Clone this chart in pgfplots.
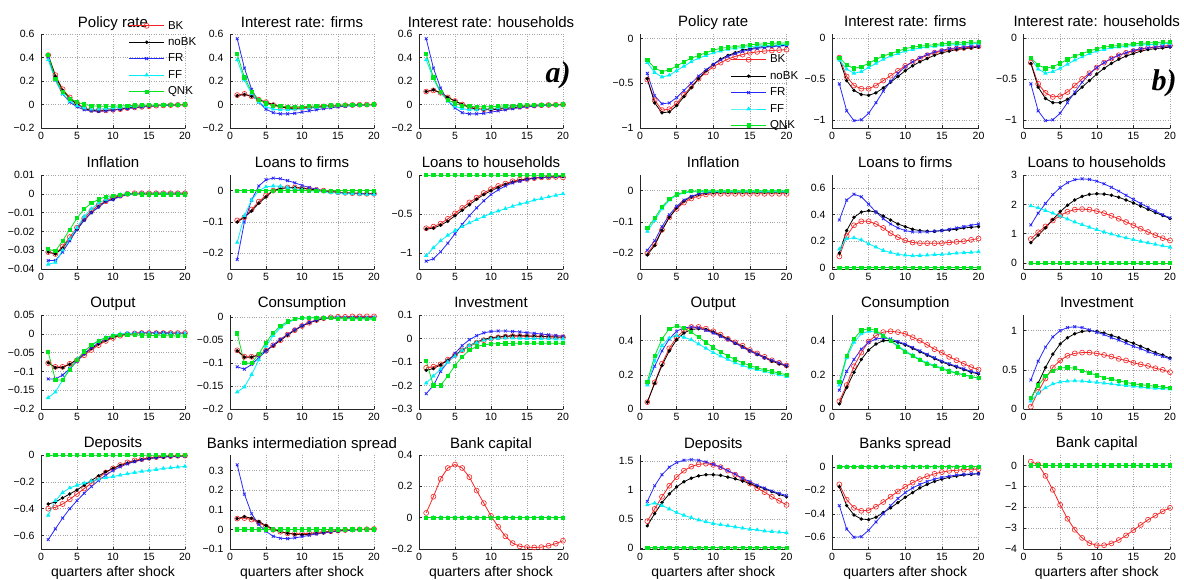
\documentclass[border=0pt]{standalone}
\usepackage{fontspec}
\setmainfont{Liberation Sans}
\newfontfamily\tnr{Liberation Serif}
\usepackage{pgfplots}
\usepackage{pgfplotstable}
\pgfplotsset{compat=1.18}

\definecolor{cBK}{RGB}{245,35,35}
\definecolor{cFR}{RGB}{40,40,250}
\definecolor{cFF}{RGB}{0,240,250}
\definecolor{cQNK}{RGB}{0,230,30}

% ---------- panel a) ----------
\pgfplotstableread{
x BK noBK FR FF QNK
1 0.42 0.42 0.40 0.38 0.42
2 0.25 0.24 0.21 0.21 0.22
3 0.13 0.12 0.09 0.09 0.11
4 0.06 0.05 0.02 0.03 0.05
5 0.01 0.00 -0.02 -0.01 0.02
6 -0.03 -0.035 -0.045 -0.03 0.0
7 -0.045 -0.05 -0.055 -0.04 -0.01
8 -0.05 -0.055 -0.058 -0.04 -0.015
9 -0.05 -0.05 -0.055 -0.035 -0.015
10 -0.045 -0.045 -0.05 -0.03 -0.015
11 -0.04 -0.04 -0.04 -0.025 -0.012
12 -0.03 -0.03 -0.035 -0.02 -0.01
13 -0.025 -0.025 -0.028 -0.015 -0.008
14 -0.02 -0.02 -0.02 -0.012 -0.006
15 -0.015 -0.015 -0.015 -0.01 -0.005
16 -0.01 -0.01 -0.01 -0.007 -0.004
17 -0.008 -0.008 -0.007 -0.005 -0.003
18 -0.005 -0.005 -0.005 -0.003 -0.002
19 -0.003 -0.003 -0.003 -0.002 -0.001
20 -0.002 -0.002 -0.002 -0.001 0
}\aA
\pgfplotstableread{
x BK noBK FR FF QNK
1 0.08 0.075 0.56 0.38 0.43
2 0.09 0.085 0.31 0.21 0.23
3 0.07 0.07 0.13 0.09 0.11
4 0.04 0.04 0.02 0.02 0.04
5 0.02 0.02 -0.04 -0.02 0.01
6 -0.005 0 -0.07 -0.04 -0.01
7 -0.02 -0.02 -0.08 -0.045 -0.015
8 -0.025 -0.03 -0.08 -0.045 -0.02
9 -0.028 -0.035 -0.075 -0.04 -0.02
10 -0.028 -0.035 -0.065 -0.035 -0.02
11 -0.025 -0.03 -0.055 -0.03 -0.015
12 -0.02 -0.025 -0.045 -0.025 -0.012
13 -0.016 -0.02 -0.035 -0.02 -0.01
14 -0.012 -0.015 -0.028 -0.015 -0.008
15 -0.009 -0.011 -0.02 -0.011 -0.006
16 -0.006 -0.008 -0.015 -0.008 -0.004
17 -0.004 -0.005 -0.01 -0.005 -0.003
18 -0.002 -0.003 -0.007 -0.003 -0.002
19 -0.001 -0.002 -0.004 -0.002 -0.001
20 0 -0.001 -0.002 -0.001 0
}\aB
\pgfplotstableread{
x BK noBK FR FF QNK
1 0.11 0.11 0.56 0.38 0.43
2 0.12 0.125 0.31 0.22 0.23
3 0.10 0.10 0.14 0.10 0.11
4 0.06 0.06 0.03 0.03 0.04
5 0.03 0.03 -0.03 -0.015 0.01
6 0.0 0.0 -0.07 -0.035 -0.01
7 -0.02 -0.025 -0.08 -0.045 -0.015
8 -0.035 -0.04 -0.08 -0.045 -0.02
9 -0.04 -0.045 -0.075 -0.04 -0.02
10 -0.04 -0.045 -0.065 -0.035 -0.02
11 -0.035 -0.04 -0.055 -0.03 -0.015
12 -0.03 -0.034 -0.045 -0.025 -0.012
13 -0.024 -0.027 -0.035 -0.02 -0.01
14 -0.018 -0.021 -0.028 -0.015 -0.008
15 -0.013 -0.016 -0.02 -0.011 -0.006
16 -0.009 -0.011 -0.015 -0.008 -0.004
17 -0.006 -0.008 -0.01 -0.005 -0.003
18 -0.004 -0.005 -0.007 -0.003 -0.002
19 -0.002 -0.003 -0.004 -0.002 -0.001
20 -0.001 -0.002 -0.002 -0.001 0
}\aC
\pgfplotstableread{
x BK noBK FR FF QNK
1 -0.031 -0.031 -0.0355 -0.0375 -0.0295
2 -0.032 -0.032 -0.0355 -0.0365 -0.0305
3 -0.028 -0.029 -0.031 -0.030 -0.025
4 -0.023 -0.024 -0.025 -0.024 -0.019
5 -0.018 -0.019 -0.019 -0.018 -0.013
6 -0.013 -0.014 -0.014 -0.012 -0.008
7 -0.009 -0.010 -0.010 -0.008 -0.005
8 -0.006 -0.007 -0.007 -0.005 -0.003
9 -0.004 -0.004 -0.004 -0.003 -0.0015
10 -0.002 -0.003 -0.003 -0.0015 -0.001
11 -0.001 -0.001 -0.0015 -0.0005 -0.0005
12 0 0 -0.0005 0 0
13 0.0003 0.0003 0 0 -0.0002
14 0.0003 0.0003 0.0003 0 -0.0003
15 0.0003 0.0003 0.0003 0 -0.0003
16 0.0003 0.0003 0.0003 0 -0.0003
17 0.0003 0.0003 0.0003 0 -0.0003
18 0.0003 0.0003 0.0003 0 -0.0003
19 0.0003 0.0003 0.0003 0 -0.0003
20 0.0003 0.0003 0.0003 0 -0.0003
}\aD
\pgfplotstableread{
x BK noBK FR FF QNK
1 -0.095 -0.10 -0.22 -0.165 0
2 -0.085 -0.085 -0.10 -0.08 0
3 -0.06 -0.065 -0.03 -0.03 0
4 -0.035 -0.04 0.015 0.0 0
5 -0.015 -0.02 0.035 0.012 0
6 0.0 0.0 0.04 0.015 0
7 0.007 0.006 0.038 0.014 0
8 0.01 0.01 0.032 0.01 0
9 0.01 0.01 0.025 0.006 0
10 0.008 0.008 0.017 0.003 0
11 0.005 0.005 0.01 0.0 0
12 0.002 0.002 0.005 -0.002 0
13 0 0 0 -0.004 0
14 -0.003 -0.003 -0.003 -0.006 0
15 -0.005 -0.005 -0.005 -0.008 0
16 -0.007 -0.007 -0.007 -0.009 0
17 -0.008 -0.008 -0.008 -0.01 0
18 -0.009 -0.009 -0.009 -0.011 0
19 -0.01 -0.01 -0.01 -0.012 0
20 -0.01 -0.01 -0.01 -0.012 0
}\aE
\pgfplotstableread{
x BK noBK FR FF QNK
1 -0.68 -0.69 -1.10 -1.03 0
2 -0.66 -0.68 -1.07 -0.93 0
3 -0.62 -0.64 -0.98 -0.84 0
4 -0.56 -0.59 -0.87 -0.77 0
5 -0.49 -0.52 -0.75 -0.71 0
6 -0.42 -0.45 -0.63 -0.66 0
7 -0.35 -0.38 -0.52 -0.61 0
8 -0.29 -0.31 -0.42 -0.57 0
9 -0.23 -0.25 -0.33 -0.53 0
10 -0.18 -0.20 -0.25 -0.49 0
11 -0.14 -0.16 -0.19 -0.46 0
12 -0.11 -0.12 -0.14 -0.43 0
13 -0.08 -0.09 -0.10 -0.40 0
14 -0.06 -0.07 -0.08 -0.37 0
15 -0.05 -0.05 -0.06 -0.35 0
16 -0.04 -0.04 -0.04 -0.32 0
17 -0.03 -0.03 -0.03 -0.30 0
18 -0.03 -0.025 -0.025 -0.28 0
19 -0.025 -0.02 -0.02 -0.26 0
20 -0.03 -0.02 -0.015 -0.24 0
}\aF
\pgfplotstableread{
x BK noBK FR FF QNK
1 -0.078 -0.077 -0.12 -0.17 -0.048
2 -0.088 -0.09 -0.12 -0.155 -0.123
3 -0.088 -0.09 -0.11 -0.123 -0.123
4 -0.08 -0.081 -0.093 -0.093 -0.095
5 -0.07 -0.068 -0.073 -0.068 -0.069
6 -0.057 -0.053 -0.053 -0.047 -0.047
7 -0.043 -0.039 -0.037 -0.031 -0.03
8 -0.03 -0.027 -0.024 -0.019 -0.018
9 -0.019 -0.017 -0.014 -0.01 -0.01
10 -0.011 -0.009 -0.007 -0.004 -0.005
11 -0.005 -0.004 -0.002 0 -0.003
12 -0.001 -0.001 0.001 0.001 -0.003
13 0.001 0 0.002 0.001 -0.003
14 0.002 0.001 0.003 0.001 -0.004
15 0.002 0.001 0.003 0.001 -0.004
16 0.002 0.001 0.003 0 -0.005
17 0.002 0.001 0.003 0 -0.005
18 0.002 0.001 0.002 0 -0.005
19 0.002 0.001 0.002 0 -0.006
20 0.002 0.001 0.002 0 -0.006
}\aG
\pgfplotstableread{
x BK noBK FR FF QNK
1 -0.072 -0.073 -0.108 -0.163 -0.035
2 -0.086 -0.087 -0.113 -0.152 -0.1
3 -0.086 -0.087 -0.103 -0.125 -0.1
4 -0.082 -0.082 -0.088 -0.093 -0.08
5 -0.073 -0.073 -0.074 -0.063 -0.055
6 -0.061 -0.062 -0.06 -0.04 -0.034
7 -0.05 -0.05 -0.048 -0.023 -0.019
8 -0.038 -0.039 -0.037 -0.012 -0.009
9 -0.028 -0.028 -0.027 -0.005 -0.004
10 -0.019 -0.019 -0.018 -0.002 -0.002
11 -0.012 -0.012 -0.011 -0.001 -0.001
12 -0.006 -0.007 -0.006 -0.001 -0.001
13 -0.002 -0.003 -0.002 -0.001 -0.002
14 0 -0.001 0 -0.001 -0.002
15 0.001 -0.001 0 -0.001 -0.003
16 0.001 -0.001 0 -0.002 -0.003
17 0.002 -0.001 0 -0.002 -0.003
18 0.002 -0.001 0 -0.002 -0.003
19 0.002 -0.001 0 -0.002 -0.004
20 0.002 -0.001 0 -0.002 -0.004
}\aH
\pgfplotstableread{
x BK noBK FR FF QNK
1 -0.125 -0.135 -0.235 -0.19 -0.095
2 -0.12 -0.128 -0.2 -0.16 -0.2
3 -0.11 -0.112 -0.14 -0.13 -0.2
4 -0.09 -0.092 -0.1 -0.1 -0.16
5 -0.07 -0.07 -0.063 -0.075 -0.115
6 -0.05 -0.049 -0.03 -0.05 -0.078
7 -0.033 -0.03 -0.005 -0.03 -0.05
8 -0.018 -0.015 0.012 -0.017 -0.034
9 -0.007 -0.004 0.024 -0.007 -0.027
10 0 0.003 0.03 -0.002 -0.023
11 0.005 0.007 0.032 0.001 -0.022
12 0.008 0.01 0.032 0.002 -0.021
13 0.01 0.012 0.03 0.002 -0.021
14 0.01 0.012 0.028 0.001 -0.02
15 0.01 0.011 0.025 0 -0.02
16 0.009 0.01 0.022 0 -0.02
17 0.008 0.009 0.019 -0.001 -0.02
18 0.007 0.008 0.016 -0.001 -0.02
19 0.006 0.007 0.013 -0.002 -0.02
20 0.005 0.006 0.01 -0.002 -0.02
}\aI
\pgfplotstableread{
x BK noBK FR FF QNK
1 -0.40 -0.365 -0.63 -0.45 0
2 -0.39 -0.35 -0.55 -0.34 0
3 -0.365 -0.32 -0.47 -0.28 0
4 -0.33 -0.29 -0.40 -0.245 0
5 -0.29 -0.26 -0.34 -0.225 0
6 -0.25 -0.225 -0.285 -0.21 0
7 -0.21 -0.19 -0.235 -0.195 0
8 -0.17 -0.155 -0.19 -0.18 0
9 -0.13 -0.125 -0.15 -0.17 0
10 -0.1 -0.1 -0.115 -0.16 0
11 -0.075 -0.078 -0.088 -0.15 0
12 -0.055 -0.06 -0.066 -0.14 0
13 -0.04 -0.046 -0.05 -0.13 0
14 -0.03 -0.035 -0.037 -0.122 0
15 -0.02 -0.026 -0.027 -0.115 0
16 -0.015 -0.02 -0.02 -0.108 0
17 -0.01 -0.015 -0.015 -0.1 0
18 -0.008 -0.011 -0.012 -0.095 0
19 -0.006 -0.008 -0.01 -0.09 0
20 -0.005 -0.006 -0.008 -0.085 0
}\aJ
\pgfplotstableread{
x BK noBK FR FF QNK
1 0.055 0.055 0.33 0 0
2 0.058 0.065 0.18 0 0
3 0.05 0.057 0.08 0 0
4 0.035 0.04 0.025 0 0
5 0.015 0.02 -0.01 0 0
6 -0.002 0.003 -0.035 0 0
7 -0.012 -0.01 -0.045 0 0
8 -0.02 -0.02 -0.047 0 0
9 -0.022 -0.025 -0.043 0 0
10 -0.022 -0.027 -0.037 0 0
11 -0.02 -0.025 -0.03 0 0
12 -0.016 -0.021 -0.023 0 0
13 -0.012 -0.017 -0.017 0 0
14 -0.009 -0.012 -0.012 0 0
15 -0.006 -0.008 -0.008 0 0
16 -0.003 -0.005 -0.005 0 0
17 -0.001 -0.003 -0.003 0 0
18 0 -0.001 -0.001 0 0
19 0.001 0 0 0 0
20 0.002 0.001 0.001 0 0
}\aK
\pgfplotstableread{
x BK noBK FR FF QNK
1 0.03 0 0 0 0
2 0.134 0 0 0 0
3 0.248 0 0 0 0
4 0.317 0 0 0 0
5 0.339 0 0 0 0
6 0.317 0 0 0 0
7 0.259 0 0 0 0
8 0.173 0 0 0 0
9 0.093 0 0 0 0
10 0.011 0 0 0 0
11 -0.058 0 0 0 0
12 -0.119 0 0 0 0
13 -0.162 0 0 0 0
14 -0.183 0 0 0 0
15 -0.188 0 0 0 0
16 -0.19 0 0 0 0
17 -0.188 0 0 0 0
18 -0.179 0 0 0 0
19 -0.166 0 0 0 0
20 -0.147 0 0 0 0
}\aL

% ---------- panel b) ----------
\pgfplotstableread{
x BK noBK FR FF QNK
1 -0.46 -0.45 -0.39 -0.27 -0.24
2 -0.69 -0.72 -0.64 -0.38 -0.33
3 -0.80 -0.83 -0.73 -0.43 -0.37
4 -0.79 -0.82 -0.72 -0.41 -0.35
5 -0.725 -0.75 -0.66 -0.36 -0.31
6 -0.63 -0.65 -0.58 -0.31 -0.26
7 -0.535 -0.55 -0.5 -0.26 -0.22
8 -0.45 -0.45 -0.42 -0.22 -0.19
9 -0.38 -0.36 -0.35 -0.19 -0.16
10 -0.315 -0.29 -0.29 -0.16 -0.13
11 -0.27 -0.23 -0.24 -0.14 -0.11
12 -0.23 -0.19 -0.2 -0.12 -0.1
13 -0.2 -0.16 -0.17 -0.11 -0.09
14 -0.18 -0.13 -0.145 -0.1 -0.08
15 -0.16 -0.115 -0.125 -0.09 -0.07
16 -0.15 -0.1 -0.11 -0.085 -0.065
17 -0.14 -0.09 -0.1 -0.08 -0.06
18 -0.135 -0.085 -0.09 -0.075 -0.055
19 -0.13 -0.08 -0.085 -0.07 -0.05
20 -0.125 -0.075 -0.08 -0.065 -0.05
}\bA
\pgfplotstableread{
x BK noBK FR FF QNK
1 -0.24 -0.26 -0.56 -0.27 -0.24
2 -0.47 -0.52 -0.89 -0.38 -0.33
3 -0.58 -0.64 -1.01 -0.43 -0.37
4 -0.62 -0.69 -1.0 -0.41 -0.35
5 -0.62 -0.7 -0.92 -0.36 -0.31
6 -0.58 -0.67 -0.79 -0.31 -0.26
7 -0.52 -0.61 -0.65 -0.26 -0.22
8 -0.46 -0.54 -0.53 -0.22 -0.19
9 -0.4 -0.47 -0.43 -0.19 -0.16
10 -0.34 -0.4 -0.35 -0.16 -0.13
11 -0.29 -0.34 -0.29 -0.14 -0.11
12 -0.25 -0.29 -0.24 -0.12 -0.1
13 -0.21 -0.25 -0.2 -0.11 -0.09
14 -0.18 -0.21 -0.17 -0.1 -0.08
15 -0.16 -0.18 -0.15 -0.09 -0.07
16 -0.14 -0.16 -0.13 -0.085 -0.065
17 -0.13 -0.14 -0.12 -0.08 -0.06
18 -0.12 -0.13 -0.11 -0.075 -0.055
19 -0.11 -0.12 -0.1 -0.07 -0.05
20 -0.1 -0.11 -0.1 -0.065 -0.05
}\bB
\pgfplotstableread{
x BK noBK FR FF QNK
1 -0.3 -0.31 -0.56 -0.25 -0.24
2 -0.56 -0.6 -0.89 -0.38 -0.33
3 -0.67 -0.74 -1.01 -0.43 -0.37
4 -0.72 -0.79 -1.0 -0.41 -0.35
5 -0.71 -0.79 -0.92 -0.37 -0.31
6 -0.66 -0.75 -0.79 -0.32 -0.26
7 -0.58 -0.68 -0.66 -0.27 -0.22
8 -0.5 -0.6 -0.54 -0.23 -0.19
9 -0.43 -0.52 -0.44 -0.19 -0.16
10 -0.36 -0.44 -0.36 -0.16 -0.13
11 -0.3 -0.37 -0.3 -0.14 -0.11
12 -0.25 -0.31 -0.25 -0.12 -0.1
13 -0.21 -0.26 -0.21 -0.11 -0.09
14 -0.18 -0.22 -0.18 -0.1 -0.08
15 -0.16 -0.19 -0.15 -0.09 -0.07
16 -0.14 -0.16 -0.13 -0.085 -0.065
17 -0.12 -0.14 -0.12 -0.08 -0.06
18 -0.11 -0.13 -0.11 -0.075 -0.055
19 -0.1 -0.12 -0.1 -0.07 -0.05
20 -0.09 -0.11 -0.1 -0.065 -0.05
}\bC
\pgfplotstableread{
x BK noBK FR FF QNK
1 -0.2 -0.205 -0.19 -0.13 -0.12
2 -0.17 -0.175 -0.16 -0.095 -0.088
3 -0.125 -0.127 -0.115 -0.058 -0.052
4 -0.085 -0.085 -0.077 -0.03 -0.027
5 -0.058 -0.055 -0.05 -0.015 -0.012
6 -0.038 -0.033 -0.03 -0.007 -0.005
7 -0.025 -0.02 -0.018 -0.004 -0.002
8 -0.017 -0.012 -0.01 -0.003 -0.001
9 -0.012 -0.008 -0.006 -0.003 0
10 -0.01 -0.006 -0.004 -0.003 0
11 -0.01 -0.005 -0.003 -0.003 0
12 -0.01 -0.005 -0.003 -0.003 0
13 -0.01 -0.005 -0.003 -0.003 0
14 -0.01 -0.005 -0.003 -0.003 0
15 -0.01 -0.005 -0.003 -0.003 0
16 -0.01 -0.005 -0.003 -0.003 0
17 -0.01 -0.005 -0.003 -0.003 0
18 -0.01 -0.005 -0.003 -0.003 0
19 -0.01 -0.005 -0.003 -0.003 0
20 -0.01 -0.005 -0.003 -0.003 0
}\bD
\pgfplotstableread{
x BK noBK FR FF QNK
1 0.085 0.11 0.36 0.14 0
2 0.24 0.28 0.51 0.22 0
3 0.32 0.38 0.555 0.225 0
4 0.35 0.42 0.535 0.21 0
5 0.35 0.43 0.48 0.18 0
6 0.33 0.42 0.42 0.155 0
7 0.3 0.39 0.37 0.13 0
8 0.26 0.36 0.33 0.115 0
9 0.23 0.33 0.3 0.1 0
10 0.205 0.31 0.28 0.095 0
11 0.19 0.29 0.27 0.09 0
12 0.185 0.28 0.27 0.092 0
13 0.185 0.275 0.27 0.095 0
14 0.185 0.275 0.275 0.098 0
15 0.185 0.28 0.28 0.1 0
16 0.19 0.285 0.29 0.105 0
17 0.195 0.29 0.3 0.11 0
18 0.2 0.3 0.31 0.113 0
19 0.21 0.305 0.32 0.116 0
20 0.22 0.31 0.33 0.12 0
}\bE
\pgfplotstableread{
x BK noBK FR FF QNK
1 0.82 0.7 1.3 1.95 0
2 1.05 0.95 1.7 1.88 0
3 1.25 1.2 2.03 1.79 0
4 1.45 1.48 2.33 1.7 0
5 1.62 1.75 2.57 1.6 0
6 1.75 1.97 2.74 1.5 0
7 1.82 2.15 2.84 1.4 0
8 1.84 2.27 2.87 1.31 0
9 1.82 2.34 2.85 1.22 0
10 1.77 2.36 2.79 1.14 0
11 1.7 2.35 2.7 1.06 0
12 1.61 2.31 2.58 0.99 0
13 1.51 2.24 2.45 0.92 0
14 1.4 2.15 2.31 0.86 0
15 1.29 2.05 2.17 0.8 0
16 1.17 1.94 2.03 0.74 0
17 1.06 1.83 1.9 0.69 0
18 0.95 1.72 1.77 0.64 0
19 0.85 1.62 1.65 0.59 0
20 0.77 1.52 1.54 0.54 0
}\bF
\pgfplotstableread{
x BK noBK FR FF QNK
1 0.04 0.04 0.15 0.14 0.16
2 0.155 0.15 0.25 0.28 0.31
3 0.265 0.255 0.34 0.37 0.41
4 0.355 0.34 0.41 0.415 0.47
5 0.42 0.405 0.455 0.43 0.485
6 0.46 0.445 0.475 0.42 0.475
7 0.48 0.465 0.48 0.405 0.45
8 0.48 0.47 0.475 0.38 0.42
9 0.47 0.465 0.46 0.355 0.39
10 0.455 0.45 0.445 0.33 0.36
11 0.435 0.43 0.425 0.31 0.335
12 0.41 0.41 0.405 0.29 0.31
13 0.39 0.385 0.385 0.27 0.29
14 0.37 0.365 0.36 0.255 0.27
15 0.345 0.34 0.34 0.24 0.255
16 0.325 0.32 0.32 0.23 0.24
17 0.305 0.3 0.3 0.22 0.23
18 0.285 0.28 0.285 0.21 0.22
19 0.27 0.265 0.27 0.2 0.21
20 0.255 0.25 0.255 0.19 0.2
}\bG
\pgfplotstableread{
x BK noBK FR FF QNK
1 0.045 0.03 0.11 0.14 0.16
2 0.14 0.125 0.22 0.3 0.31
3 0.25 0.215 0.29 0.39 0.41
4 0.33 0.29 0.35 0.44 0.46
5 0.395 0.345 0.39 0.455 0.47
6 0.43 0.38 0.41 0.45 0.46
7 0.45 0.4 0.415 0.43 0.43
8 0.455 0.4 0.41 0.4 0.4
9 0.45 0.39 0.395 0.37 0.365
10 0.44 0.375 0.38 0.34 0.335
11 0.42 0.355 0.36 0.315 0.31
12 0.4 0.335 0.34 0.29 0.285
13 0.375 0.315 0.32 0.27 0.265
14 0.35 0.295 0.3 0.255 0.25
15 0.33 0.275 0.28 0.24 0.235
16 0.305 0.26 0.265 0.225 0.22
17 0.285 0.245 0.25 0.21 0.21
18 0.265 0.23 0.235 0.2 0.2
19 0.245 0.215 0.22 0.19 0.19
20 0.23 0.205 0.21 0.18 0.18
}\bH
\pgfplotstableread{
x BK noBK FR FF QNK
1 0.03 0.12 0.37 0.1 0.14
2 0.22 0.33 0.61 0.2 0.3
3 0.39 0.53 0.79 0.27 0.42
4 0.53 0.7 0.92 0.32 0.49
5 0.62 0.83 1.0 0.345 0.525
6 0.68 0.91 1.04 0.355 0.53
7 0.71 0.96 1.05 0.36 0.52
8 0.72 0.99 1.04 0.355 0.49
9 0.72 1.0 1.01 0.35 0.46
10 0.71 0.99 0.98 0.34 0.43
11 0.69 0.97 0.95 0.33 0.4
12 0.67 0.94 0.91 0.32 0.38
13 0.64 0.91 0.88 0.31 0.36
14 0.62 0.87 0.84 0.3 0.34
15 0.59 0.84 0.8 0.29 0.32
16 0.57 0.8 0.77 0.28 0.31
17 0.55 0.76 0.73 0.27 0.3
18 0.52 0.72 0.7 0.265 0.29
19 0.5 0.69 0.67 0.26 0.28
20 0.47 0.65 0.64 0.255 0.27
}\bI
\pgfplotstableread{
x BK noBK FR FF QNK
1 0.46 0.38 0.8 0.74 0
2 0.67 0.59 1.07 0.77 0
3 0.88 0.78 1.26 0.73 0
4 1.07 0.93 1.39 0.67 0
5 1.22 1.05 1.47 0.61 0
6 1.33 1.14 1.51 0.56 0
7 1.4 1.2 1.52 0.52 0
8 1.44 1.24 1.51 0.48 0
9 1.45 1.26 1.48 0.45 0
10 1.43 1.26 1.44 0.42 0
11 1.39 1.25 1.39 0.4 0
12 1.33 1.22 1.33 0.38 0
13 1.26 1.19 1.27 0.36 0
14 1.19 1.15 1.2 0.34 0
15 1.11 1.11 1.14 0.32 0
16 1.03 1.06 1.08 0.31 0
17 0.96 1.02 1.03 0.29 0
18 0.88 0.97 0.98 0.28 0
19 0.81 0.92 0.94 0.27 0
20 0.74 0.88 0.9 0.26 0
}\bJ
\pgfplotstableread{
x BK noBK FR FF QNK
1 -0.15 -0.17 -0.33 0 0
2 -0.28 -0.33 -0.53 0 0
3 -0.35 -0.41 -0.6 0 0
4 -0.375 -0.445 -0.595 0 0
5 -0.37 -0.45 -0.54 0 0
6 -0.34 -0.43 -0.47 0 0
7 -0.3 -0.39 -0.4 0 0
8 -0.255 -0.35 -0.33 0 0
9 -0.21 -0.305 -0.27 0 0
10 -0.17 -0.26 -0.22 0 0
11 -0.135 -0.22 -0.18 0 0
12 -0.105 -0.18 -0.15 0 0
13 -0.08 -0.15 -0.125 0 0
14 -0.06 -0.125 -0.105 0 0
15 -0.045 -0.105 -0.09 0 0
16 -0.035 -0.09 -0.08 0 0
17 -0.03 -0.08 -0.07 0 0
18 -0.025 -0.07 -0.065 0 0
19 -0.02 -0.065 -0.06 0 0
20 -0.02 -0.06 -0.06 0 0
}\bK
\pgfplotstableread{
x BK noBK FR FF QNK
1 0.18 0 0 0 0
2 0.05 0 0 0 0
3 -0.5 0 0 0 0
4 -1.17 0 0 0 0
5 -1.88 0 0 0 0
6 -2.55 0 0 0 0
7 -3.08 0 0 0 0
8 -3.47 0 0 0 0
9 -3.72 0 0 0 0
10 -3.82 0 0 0 0
11 -3.82 0 0 0 0
12 -3.73 0 0 0 0
13 -3.57 0 0 0 0
14 -3.35 0 0 0 0
15 -3.1 0 0 0 0
16 -2.85 0 0 0 0
17 -2.6 0 0 0 0
18 -2.4 0 0 0 0
19 -2.2 0 0 0 0
20 -2.03 0 0 0 0
}\bL

\pgfplotsset{
  sub/.style={
    scale only axis, width=144pt, height=94pt,
    xmin=0, xmax=20, xtick={0,5,10,15,20}, xticklabels={0,5,10,15,20},
    scaled y ticks=false, scaled x ticks=false,
    grid=major, grid style={black!35, dotted, line width=0.5pt},
    axis x line*=bottom, axis y line*=left,
    axis line style={-, line width=0.5pt, black!85},
    tick align=inside, major tick length=2.5pt,
    tick style={black!85, line width=0.5pt},
    tick label style={font=\fontsize{10.5}{12}\selectfont},
    yticklabel style={xshift=-3pt}, xticklabel style={yshift=-1pt},
    title style={font=\fontsize{15}{17}\selectfont, at={(0.5,1)}, anchor=base, yshift=1pt},
    xlabel style={font=\fontsize{14}{16}\selectfont, at={(0.5,0)}, anchor=base, yshift=-27pt},
    clip=false,
    legend image code/.code={\draw[mark repeat=2, mark phase=2, ##1] plot coordinates {(0pt,0pt) (17.5pt,0pt) (35pt,0pt)};},
  },
  wb/.style={width=146.5pt},
  bk/.style={cBK, line width=0.8pt, mark=o, mark size=2.5pt, mark options={line width=0.6pt}},
  nobk/.style={black, line width=0.8pt, mark=*, mark size=1.3pt},
  fr/.style={cFR, line width=0.8pt, mark=x, mark size=2pt, mark options={line width=0.8pt}},
  ff/.style={cFF, line width=0.8pt, mark=triangle*, mark size=1.8pt},
  qnk/.style={cQNK, line width=0.8pt, mark=square*, mark size=1.6pt},
  leg/.style={legend style={draw=none, fill=none, anchor=north west,
    font=\fontsize{11.5}{13}\selectfont, inner sep=0pt,
    nodes={inner sep=1.5pt}, row sep=4pt, column sep=2pt,
    cells={anchor=west}}},
}

\newcommand\five[1]{%
  \addplot[bk] table[x=x,y=BK]{#1};
  \addplot[nobk] table[x=x,y=noBK]{#1};
  \addplot[fr] table[x=x,y=FR]{#1};
  \addplot[ff] table[x=x,y=FF]{#1};
  \addplot[qnk] table[x=x,y=QNK]{#1};}

\begin{document}
\begin{tikzpicture}
\path[use as bounding box] (0,0) rectangle (1184pt,579pt);

% ===== panel a) =====
\begin{axis}[sub, at={(41pt,451pt)}, title={Policy rate}, ymin=-0.2, ymax=0.6,
  ytick={-0.2,0,0.2,0.4,0.6}, yticklabels={−0.2,0,0.2,0.4,0.6},
  leg, legend style={at={(0.608,1.155)}}]
\five\aA
\legend{BK,noBK,FR,FF,QNK}
\end{axis}
\begin{axis}[sub, at={(230pt,451pt)}, title={Interest rate: firms}, ymin=-0.2, ymax=0.6,
  ytick={-0.2,0,0.2,0.4,0.6}, yticklabels={−0.2,0,0.2,0.4,0.6}]
\five\aB
\end{axis}
\begin{axis}[sub, at={(419pt,451pt)}, title={Interest rate: households}, ymin=-0.2, ymax=0.6,
  ytick={-0.2,0,0.2,0.4,0.6}, yticklabels={−0.2,0,0.2,0.4,0.6}]
\five\aC
\end{axis}

\begin{axis}[sub, at={(41pt,310pt)}, title={Inflation}, ymin=-0.04, ymax=0.01,
  ytick={-0.04,-0.03,-0.02,-0.01,0,0.01}, yticklabels={−0.04,−0.03,−0.02,−0.01,0,0.01}]
\five\aD
\end{axis}
\begin{axis}[sub, at={(230pt,310pt)}, title={Loans to firms}, ymin=-0.25, ymax=0.05,
  ytick={-0.2,-0.1,0}, yticklabels={−0.2,−0.1,0}]
\five\aE
\end{axis}
\begin{axis}[sub, at={(419pt,310pt)}, title={Loans to households}, ymin=-1.2, ymax=0,
  ytick={-1,-0.5,0}, yticklabels={−1,−0.5,0}]
\five\aF
\end{axis}

\begin{axis}[sub, at={(41pt,170pt)}, title={Output}, ymin=-0.2, ymax=0.05,
  ytick={-0.2,-0.15,-0.1,-0.05,0,0.05}, yticklabels={−0.2,−0.15,−0.1,−0.05,0,0.05}]
\five\aG
\end{axis}
\begin{axis}[sub, at={(230pt,170pt)}, title={Consumption}, ymin=-0.2, ymax=0.005,
  ytick={-0.2,-0.15,-0.1,-0.05,0}, yticklabels={−0.2,−0.15,−0.1,−0.05,0}]
\five\aH
\end{axis}
\begin{axis}[sub, at={(419pt,170pt)}, title={Investment}, ymin=-0.3, ymax=0.1,
  ytick={-0.3,-0.2,-0.1,0,0.1}, yticklabels={−0.3,−0.2,−0.1,0,0.1}]
\five\aI
\end{axis}

\begin{axis}[sub, at={(41pt,30pt)}, title={Deposits}, ymin=-0.7, ymax=0,
  ytick={-0.6,-0.4,-0.2,0}, yticklabels={−0.6,−0.4,−0.2,0}, xlabel={quarters after shock}]
\five\aJ
\end{axis}
\begin{axis}[sub, at={(230pt,30pt)}, title={Banks intermediation spread}, ymin=-0.1, ymax=0.38,
  ytick={-0.1,0,0.1,0.2,0.3}, yticklabels={−0.1,0,0.1,0.2,0.3}, xlabel={quarters after shock}]
\five\aK
\end{axis}
\begin{axis}[sub, at={(419pt,30pt)}, title={Bank capital}, ymin=-0.2, ymax=0.4,
  ytick={-0.2,0,0.2,0.4}, yticklabels={−0.2,0,0.2,0.4}, xlabel={quarters after shock}]
\five\aL
\end{axis}

% ===== panel b) =====
\begin{axis}[sub, wb, at={(640pt,451pt)}, title={Policy rate}, ymin=-1, ymax=0.05,
  ytick={-1,-0.5,0}, yticklabels={−1,−0.5,0},
  leg, legend style={at={(0.618,0.794)}}]
\five\bA
\legend{BK,noBK,FR,FF,QNK}
\end{axis}
\begin{axis}[sub, wb, at={(832pt,451pt)}, title={Interest rate: firms}, ymin=-1.1, ymax=0.05,
  ytick={-1,-0.5,0}, yticklabels={−1,−0.5,0}]
\five\bB
\end{axis}
\begin{axis}[sub, wb, at={(1023.5pt,451pt)}, title={Interest rate: households}, ymin=-1.1, ymax=0.05,
  ytick={-1,-0.5,0}, yticklabels={−1,−0.5,0}]
\five\bC
\end{axis}

\begin{axis}[sub, wb, at={(640pt,310pt)}, title={Inflation}, ymin=-0.25, ymax=0.05,
  ytick={-0.2,-0.1,0}, yticklabels={−0.2,−0.1,0}]
\five\bD
\end{axis}
\begin{axis}[sub, wb, at={(832pt,310pt)}, title={Loans to firms}, ymin=-0.01, ymax=0.7,
  ytick={0,0.2,0.4,0.6}, yticklabels={0,0.2,0.4,0.6}]
\five\bE
\end{axis}
\begin{axis}[sub, wb, at={(1023.5pt,310pt)}, title={Loans to households}, ymin=-0.2, ymax=3,
  ytick={0,1,2,3}, yticklabels={0,1,2,3}]
\five\bF
\end{axis}

\begin{axis}[sub, wb, at={(640pt,170pt)}, title={Output}, ymin=0, ymax=0.55,
  ytick={0,0.2,0.4}, yticklabels={0,0.2,0.4}]
\five\bG
\end{axis}
\begin{axis}[sub, wb, at={(832pt,170pt)}, title={Consumption}, ymin=0, ymax=0.55,
  ytick={0,0.2,0.4}, yticklabels={0,0.2,0.4}]
\five\bH
\end{axis}
\begin{axis}[sub, wb, at={(1023.5pt,170pt)}, title={Investment}, ymin=0, ymax=1.2,
  ytick={0,0.5,1}, yticklabels={0,0.5,1}]
\five\bI
\end{axis}

\begin{axis}[sub, wb, at={(640pt,30pt)}, title={Deposits}, ymin=-0.02, ymax=1.6,
  ytick={0,0.5,1,1.5}, yticklabels={0,0.5,1,1.5}, xlabel={quarters after shock}]
\five\bJ
\end{axis}
\begin{axis}[sub, wb, at={(832pt,30pt)}, title={Banks spread}, ymin=-0.7, ymax=0.1,
  ytick={-0.6,-0.4,-0.2,0}, yticklabels={−0.6,−0.4,−0.2,0}, xlabel={quarters after shock}]
\five\bK
\end{axis}
\begin{axis}[sub, wb, at={(1023.5pt,30pt)}, title={Bank capital}, ymin=-4, ymax=0.5,
  ytick={-4,-3,-2,-1,0}, yticklabels={−4,−3,−2,−1,0}, xlabel={quarters after shock}]
\five\bL
\end{axis}

% panel tags
\node[font=\tnr\bfseries\itshape\fontsize{30}{32}\selectfont] at (558pt,504pt) {a)};
\node[font=\tnr\bfseries\itshape\fontsize{30}{32}\selectfont] at (1164pt,496pt) {b)};
\end{tikzpicture}
\end{document}
